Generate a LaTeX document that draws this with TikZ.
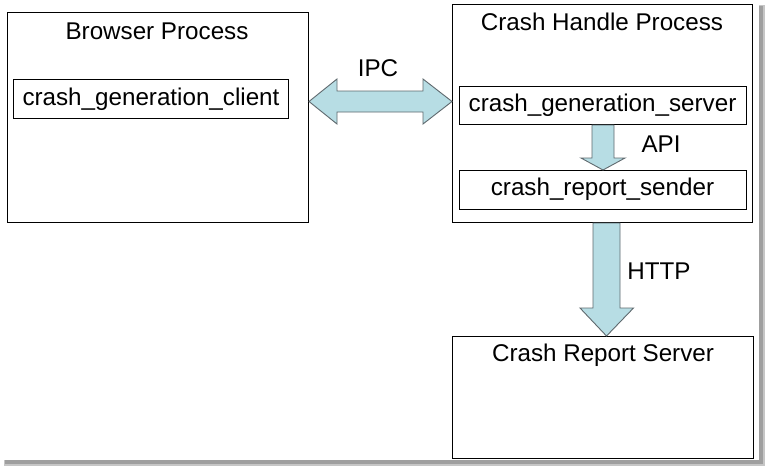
\documentclass[tikz,border=0pt]{standalone}
\usepackage{fontspec}
\setmainfont{Liberation Sans}
\usetikzlibrary{calc}
\definecolor{arrowfill}{RGB}{183,221,228}
\definecolor{arrowline}{RGB}{95,105,110}
\begin{document}
\begin{tikzpicture}[x=1pt,y=-1pt,
  every node/.style={font=\fontsize{24.2}{28}\selectfont, inner sep=0pt},
  procbox/.style={draw=black, line width=1pt, anchor=north west},
  compbox/.style={draw=black, line width=1pt, anchor=north west},
  fatarrow/.style={fill=arrowfill, draw=arrowline, line width=0.9pt, line join=miter}]
\useasboundingbox (0,0) rectangle (765,466);
% shadow frame
\fill[gray!45] (4,5) rectangle (765,466);
\fill[gray!75] (5,6) rectangle (763,464);
\fill[white] (0,0) rectangle (759,460);
% process boxes
\node[procbox, minimum width=301pt, minimum height=210pt] (browser) at (7,12) {};
\node[procbox, minimum width=300pt, minimum height=218pt] (handler) at (452,4) {};
\node[procbox, minimum width=301pt, minimum height=122pt] (server) at (452,336) {};
% titles
\node (browsert) at (157,31) {Browser Process};
\node (handlert) at (602,22) {Crash Handle Process};
\node (servert) at (603,355) {Crash Report Server};
% component boxes
\node[compbox, minimum width=275pt, minimum height=39pt] (client) at (13,79) {};
\node (clientt) at (151,99.5) {crash\_generation\_client};
\node[compbox, minimum width=287pt, minimum height=38pt] (gensrv) at (459,86) {};
\node (gensrvt) at (602.5,105.5) {crash\_generation\_server};
\node[compbox, minimum width=287pt, minimum height=39pt] (sender) at (459,170) {};
\node (sendert) at (602.5,189.5) {crash\_report\_sender};
% IPC double arrow
\coordinate (ipcL) at (browser.east |- 0,101.5);
\coordinate (ipcR) at (handler.west |- 0,101.5);
\draw[fatarrow] (ipcL) -- ++(28,-22.5) -- ++(0,12) -- ($(ipcR)+(-29,-10.5)$) -- ++(0,-12)
  -- (ipcR) -- ++(-29,22.5) -- ++(0,-12) -- ($(ipcL)+(28,10.5)$) -- ++(0,12) -- cycle;
\node (ipc) at (378,68) {IPC};
% API arrow
\coordinate (apiT) at (gensrv.south -| 603,0);
\coordinate (apiB) at (sender.north -| 603,0);
\draw[fatarrow] ($(apiT)+(-11,0)$) -- ($(apiB)+(-11,-12)$) -- ++(-11,0) -- (apiB)
  -- ++(22,-12) -- ++(-11,0) -- ($(apiT)+(11,0)$) -- cycle;
\node (api) at (661,144) {API};
% HTTP arrow
\coordinate (httpT) at (handler.south -| 606.5,0);
\coordinate (httpB) at (server.north -| 606.5,0);
\draw[fatarrow] ($(httpT)+(-13.5,0)$) -- ($(httpB)+(-13.5,-28)$) -- ++(-13,0) -- (httpB)
  -- ++(27,-28) -- ++(-13.5,0) -- ($(httpT)+(13.5,0)$) -- cycle;
\node (http) at (659,271) {HTTP};
\end{tikzpicture}
\end{document}
